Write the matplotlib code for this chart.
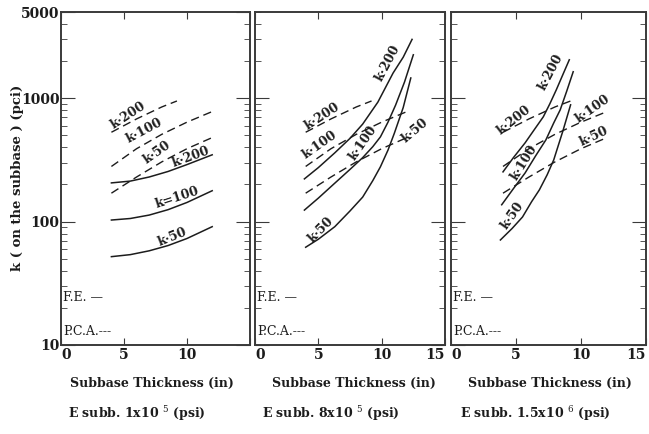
import numpy as np
import matplotlib.pyplot as plt

# Plot settings
ink = '#1c1c1c'
plt.rcParams["font.family"] = "DejaVu Serif"
plt.rcParams["mathtext.fontset"] = "dejavuserif"
plt.rcParams["text.color"] = ink
plt.rcParams["axes.edgecolor"] = '#3a3a3a'
plt.rcParams["xtick.color"] = '#3a3a3a'
plt.rcParams["ytick.color"] = '#3a3a3a'
plt.rcParams["xtick.labelcolor"] = ink
plt.rcParams["ytick.labelcolor"] = ink

# P.C.A. design values (cement treated subbase), same in every panel
pca_k50_t = [4, 6, 8, 10, 12]
pca_k50 = [170, 230, 305, 390, 480]
pca_k100_t = [4, 6, 8, 10, 12]
pca_k100 = [280, 390, 510, 640, 780]
pca_k200_t = [4, 6, 8, 9.2]
pca_k200 = [530, 680, 850, 950]

# Finite element results, E subbase = 1x10^5 psi
fe1_t = [4, 5.5, 7, 8.5, 10, 12]
fe1_k50 = [52, 54, 58, 64, 73, 91]
fe1_k100 = [103, 106, 113, 125, 143, 178]
fe1_k200 = [206, 213, 230, 255, 290, 348]

# E subbase = 8x10^5 psi
fe2_k50_t = [4.0, 5.0, 6.3, 7.5, 8.5, 9.3, 9.9, 10.5, 11.0, 11.7, 12.3]
fe2_k50 = [62, 72, 91, 122, 158, 215, 278, 380, 520, 840, 1460]
fe2_k100_t = [3.9, 5.0, 6.3, 7.5, 8.5, 9.3, 9.9, 10.5, 11.1, 11.8, 12.5]
fe2_k100 = [124, 155, 205, 265, 330, 405, 486, 640, 880, 1350, 2250]
fe2_k200_t = [3.9, 5.0, 6.3, 7.5, 8.5, 9.7, 10.9, 11.7, 12.4]
fe2_k200 = [222, 274, 361, 473, 617, 930, 1600, 2150, 3000]

# E subbase = 1.5x10^6 psi
fe3_k50_t = [3.8, 4.7, 5.5, 6.2, 6.8, 7.4, 7.9, 8.6, 9.2]
fe3_k50 = [71, 88, 109, 145, 181, 240, 316, 540, 884]
fe3_k100_t = [3.9, 4.8, 5.7, 6.5, 7.3, 7.9, 8.4, 8.9, 9.4]
fe3_k100 = [137, 185, 248, 340, 460, 630, 805, 1140, 1640]
fe3_k200_t = [4.0, 4.8, 5.7, 6.4, 7.1, 7.6, 8.1, 8.6, 9.1]
fe3_k200 = [253, 330, 435, 555, 707, 900, 1170, 1550, 2050]

moduli = ["E subb. 1x10 $^{5}$ (psi)", "E subb. 8x10 $^{5}$ (psi)",
          "E subb. 1.5x10 $^{6}$ (psi)"]

fe_curves = [
    [(fe1_t, fe1_k50), (fe1_t, fe1_k100), (fe1_t, fe1_k200)],
    [(fe2_k50_t, fe2_k50), (fe2_k100_t, fe2_k100), (fe2_k200_t, fe2_k200)],
    [(fe3_k50_t, fe3_k50), (fe3_k100_t, fe3_k100), (fe3_k200_t, fe3_k200)],
]
pca_curves = [(pca_k50_t, pca_k50), (pca_k100_t, pca_k100), (pca_k200_t, pca_k200)]

# curve labels: text, thickness, k, rotation
curve_labels = [
    [("k·200", 5.3, 733, 33), ("k·100", 6.6, 545, 28), ("k·50", 7.6, 367, 35),
     ("k·200", 10.3, 335, 20), ("k=100", 9.2, 156, 18), ("k·50", 8.8, 75, 22)],
    [("k·200", 5.3, 707, 33), ("k·100", 5.1, 419, 35), ("k·50", 12.6, 545, 40),
     ("k·200", 10.5, 1940, 62), ("k·100", 8.5, 435, 55), ("k·50", 5.2, 86, 45)],
    [("k·200", 4.8, 668, 38), ("k·100", 10.9, 820, 35), ("k·50", 11.0, 495, 25),
     ("k·200", 7.7, 1640, 62), ("k·100", 5.6, 299, 58), ("k·50", 4.7, 111, 55)],
]

fig = plt.figure(figsize=(6.49, 4.34), dpi=100)
boxes = [(61, 189), (255, 190), (451, 195)]
bottom, height = 1 - 345 / 434, 333 / 434

for i, (x0, w) in enumerate(boxes):
    ax = fig.add_axes([x0 / 649, bottom, w / 649, height])
    ax.set_yscale('log')
    for t, k in fe_curves[i]:
        ax.plot(t, k, color=ink, lw=1.1)
    for t, k in pca_curves:
        ax.plot(t, k, color=ink, lw=1.0, dashes=(6, 3.5))
    for txt, t, k, rot in curve_labels[i]:
        ax.text(t, k, txt, rotation=rot, rotation_mode='anchor', ha='center',
                va='center', fontsize=9, fontweight='bold')

    ax.set_xlim(0, 15)
    ax.set_ylim(10, 5000)
    ax.set_xticks([0, 5, 10, 15])
    if i == 0:
        ax.set_xticklabels(['0', '5', '10', ''])
        ax.set_yticks([10, 100, 1000, 5000])
        ax.set_yticklabels(['10', '100', '1000', '5000'])
    else:
        ax.set_xticklabels(['0', '5', '10', '15'])
        ax.set_yticks([10, 100, 1000])
        ax.set_yticklabels([])
    ax.tick_params(axis='x', direction='in', length=5, top=True, pad=2,
                   labelsize=10)
    ax.tick_params(axis='y', which='major', direction='in', length=10,
                   right=True, pad=1, labelsize=10)
    ax.tick_params(axis='y', which='minor', direction='in', length=4, right=True,
                   labelleft=False)
    xlabs = ax.get_xticklabels()
    xlabs[0].set_horizontalalignment('left')
    xlabs[3].set_horizontalalignment('right')
    for lab in xlabs + ax.get_yticklabels():
        lab.set_fontweight('bold')
    for sp in ax.spines.values():
        sp.set_linewidth(1.4)

    # key for line styles
    ax.text(0.012, 0.144, "F.E. —", transform=ax.transAxes, fontsize=9,
            va='center', ha='left')
    ax.text(0.012, 0.042, "P.C.A.---", transform=ax.transAxes, fontsize=9,
            va='center', ha='left')

    xc = [0.48, 0.52, 0.505][i]
    ax.text(xc, -0.114, "Subbase Thickness (in)", transform=ax.transAxes,
            ha='center', va='center', fontsize=9, fontweight='bold')
    ax.text([0.037, 0.037, 0.046][i], -0.207, moduli[i], transform=ax.transAxes,
            ha='left', va='center', fontsize=9, fontweight='bold')

fig.text(18 / 649, 1 - 178 / 434, "k ( on the subbase ) (pci)", rotation=90,
         ha='center', va='center', fontsize=9.5, fontweight='bold')

fig.savefig("out.png", dpi=100)
